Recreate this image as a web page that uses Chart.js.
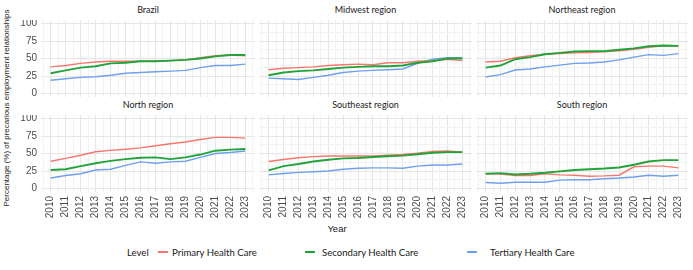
<!DOCTYPE html>
<html>

<head>
    <link rel="shortcut icon" href="#">
    <script src="https://cdn.jsdelivr.net/npm/chart.js@4.4.0/dist/chart.umd.min.js"></script>
    <style>
        body { margin: 0; background: #fff; width: 693px; height: 270px; overflow: hidden; position: relative; }
        canvas { position: absolute; }
        .txt { position: absolute; white-space: nowrap; color: #1a1a1a; }
        .title { font-family: Lato, sans-serif; font-size: 9px; transform: translate(-50%, -50%); }
        .leg { font-family: Lato, sans-serif; font-size: 9.6px; transform: translateY(-50%); }
        .key { position: absolute; height: 2px; width: 10px; }
    </style>
</head>

<body>
    <div class="txt" style="left:6px;top:108px;font-family:'Liberation Sans';font-size:8px;transform:translate(-50%,-50%) rotate(-90deg);">Percentage (%) of precarious employment relationships</div>
    <div class="txt" style="left:337px;top:228px;font-family:'Liberation Sans';font-size:9.5px;transform:translate(-50%,-50%);">Year</div>

    <div class="txt leg" style="left:127px;top:252px;">Level</div>
    <div class="key" style="left:158px;top:251px;background:#F8766D;"></div>
    <div class="txt leg" style="left:172px;top:252px;">Primary Health Care</div>
    <div class="key" style="left:305px;top:251px;background:#22A33A;"></div>
    <div class="txt leg" style="left:322px;top:252px;">Secondary Health Care</div>
    <div class="key" style="left:467px;top:251px;background:#6FA0F0;"></div>
    <div class="txt leg" style="left:490px;top:252px;">Tertiary Health Care</div>

    <script>
        const years = [2010, 2011, 2012, 2013, 2014, 2015, 2016, 2017, 2018, 2019, 2020, 2021, 2022, 2023];
        const levels = ["Primary Health Care", "Secondary Health Care", "Tertiary Health Care"];
        const yTicks = [0, 25, 50, 75, 100];

        const brazilPrimary = [38, 40, 43, 45, 46, 46, 46, 46, 47, 48, 51, 54, 55, 54];
        const brazilSecondary = [29, 33, 37, 39, 43, 44, 46, 46, 47, 48, 50, 53, 55, 55];
        const brazilTertiary = [19, 21, 23, 24, 26, 29, 30, 31, 32, 33, 37, 40, 40, 42];

        const midwestPrimary = [34, 36, 37, 38, 40, 41, 42, 41, 44, 44, 46, 47, 49, 47];
        const midwestSecondary = [26, 30, 32, 33, 35, 37, 38, 39, 39, 40, 44, 46, 50, 50];
        const midwestTertiary = [22, 21, 20, 23, 26, 30, 32, 33, 34, 35, 43, 49, 51, 51];

        const northeastPrimary = [45, 46, 51, 54, 56, 57, 58, 58.5, 59.5, 61, 63, 66, 68, 68];
        const northeastSecondary = [37, 40, 49, 52, 56, 58, 60, 60.5, 60.5, 62.5, 64.5, 67.5, 68.5, 68];
        const northeastTertiary = [23.5, 27, 33.5, 35, 38, 40.5, 43, 43.5, 45, 48, 52, 55.5, 54.5, 57];

        const northPrimary = [39, 43, 47.5, 52.5, 54.5, 56, 58, 61, 64, 66.5, 70, 73, 73, 72];
        const northSecondary = [26.5, 27.5, 32, 36, 39.5, 42, 44, 44.5, 42, 44.5, 48.5, 54, 55.5, 56.5];
        const northTertiary = [15, 18.5, 21, 26.5, 27.5, 33, 38, 36, 38, 39, 44.5, 50, 51.5, 53.5];

        const southeastPrimary = [38.5, 41.5, 44, 45.5, 46.5, 46.5, 46.5, 46.5, 47.5, 48.5, 50.5, 53, 53.5, 52];
        const southeastSecondary = [26, 32, 35, 38.5, 41, 43, 43.5, 45, 46, 47, 49, 51, 52, 52];
        const southeastTertiary = [19.5, 21.5, 23, 24, 25, 27.5, 29, 29.5, 29.5, 29, 32, 33.5, 33.5, 35];

        const southPrimary = [21, 20.5, 18.5, 18.5, 21, 19.5, 19, 17.5, 18, 19, 31, 32, 32, 29.5];
        const southSecondary = [21, 22, 20, 21, 22.5, 24.5, 26.5, 27.5, 28.5, 30, 34, 38.5, 40.5, 40.5];
        const southTertiary = [8.5, 7.5, 9, 9, 9, 12, 12.5, 12.5, 14, 15, 16.5, 19, 17.5, 19];

        const lineColors = ["#F8766D", "#22A33A", "#6FA0F0"];
        const lineWidths = [1.4, 1.9, 1.4];
        const drawOrder = [1, 0, 2]; // green on top

        // canvas placement: [left, width] per column, [top, plot height] per row
        const colBox = [[10, 245], [259, 213], [476, 212]];
        const rowBox = [[20, 77], [115, 77]];

        function gridColor(ctx, isMajor) {
            if (!ctx.tick) return '#ebebeb';
            return isMajor(ctx.tick.value) ? '#e6e6e6' : '#f2f2f2';
        }

        function drawPanel(title, series, col, row) {
            const canvas = document.createElement('canvas');
            const left = colBox[col][0], width = colBox[col][1];
            const top = rowBox[row][0];
            const xAxisH = row === 1 ? 30 : 0;
            const height = rowBox[row][1] + xAxisH;
            const yAxisW = col === 0 ? 31 : 0;
            canvas.width = width;
            canvas.height = height;
            canvas.style.left = left + 'px';
            canvas.style.top = top + 'px';
            canvas.style.width = width + 'px';
            canvas.style.height = height + 'px';
            document.body.appendChild(canvas);

            // panel title
            const t = document.createElement('div');
            t.className = 'txt title';
            t.textContent = title;
            t.style.left = (left + yAxisW + (width - yAxisW) / 2) + 'px';
            t.style.top = (top - 11) + 'px';
            document.body.appendChild(t);

            new Chart(canvas, {
                type: 'line',
                data: {
                    datasets: series.map((vals, i) => ({
                        label: levels[i],
                        data: years.map((y, j) => ({ x: y, y: vals[j] })),
                        borderColor: lineColors[i],
                        borderWidth: lineWidths[i],
                        pointRadius: 0,
                        tension: 0,
                        fill: false,
                        order: drawOrder[i]
                    }))
                },
                options: {
                    responsive: false,
                    animation: false,
                    devicePixelRatio: 1,
                    layout: { padding: 0 },
                    plugins: {
                        legend: { display: false },
                        tooltip: { enabled: false }
                    },
                    scales: {
                        x: {
                            type: 'linear',
                            min: 2009.35,
                            max: 2023.65,
                            afterBuildTicks: (scale) => {
                                const ticks = [];
                                for (let v = 2009.5; v <= 2023.5; v += 0.5) ticks.push({ value: v });
                                scale.ticks = ticks;
                            },
                            afterFit: (scale) => {
                                scale.height = xAxisH;
                                scale.paddingLeft = 0;
                                scale.paddingRight = 0;
                            },
                            border: { display: false },
                            grid: {
                                drawTicks: false,
                                color: (ctx) => gridColor(ctx, v => Number.isInteger(v)),
                                lineWidth: 1
                            },
                            ticks: {
                                display: row === 1,
                                autoSkip: false,
                                minRotation: 90,
                                maxRotation: 90,
                                padding: 4,
                                color: '#4d4d4d',
                                font: { family: 'Liberation Sans', size: 10 },
                                callback: (v) => Number.isInteger(v) ? String(v) : ''
                            }
                        },
                        y: {
                            min: -5,
                            max: 105,
                            afterBuildTicks: (scale) => {
                                const ticks = [];
                                for (let v = 0; v <= 100; v += 12.5) ticks.push({ value: v });
                                scale.ticks = ticks;
                            },
                            afterFit: (scale) => {
                                scale.width = yAxisW;
                                scale.paddingTop = 0;
                                scale.paddingBottom = 0;
                            },
                            border: { display: false },
                            grid: {
                                drawTicks: false,
                                color: (ctx) => gridColor(ctx, v => yTicks.includes(v)),
                                lineWidth: 1
                            },
                            ticks: {
                                display: col === 0,
                                padding: 4,
                                color: '#4d4d4d',
                                font: { family: 'Liberation Sans', size: 10 },
                                callback: (v) => yTicks.includes(v) ? String(v) : ''
                            }
                        }
                    }
                }
            });
        }

        drawPanel("Brazil", [brazilPrimary, brazilSecondary, brazilTertiary], 0, 0);
        drawPanel("Midwest region", [midwestPrimary, midwestSecondary, midwestTertiary], 1, 0);
        drawPanel("Northeast region", [northeastPrimary, northeastSecondary, northeastTertiary], 2, 0);
        drawPanel("North region", [northPrimary, northSecondary, northTertiary], 0, 1);
        drawPanel("Southeast region", [southeastPrimary, southeastSecondary, southeastTertiary], 1, 1);
        drawPanel("South region", [southPrimary, southSecondary, southTertiary], 2, 1);
    </script>
</body>

</html>
